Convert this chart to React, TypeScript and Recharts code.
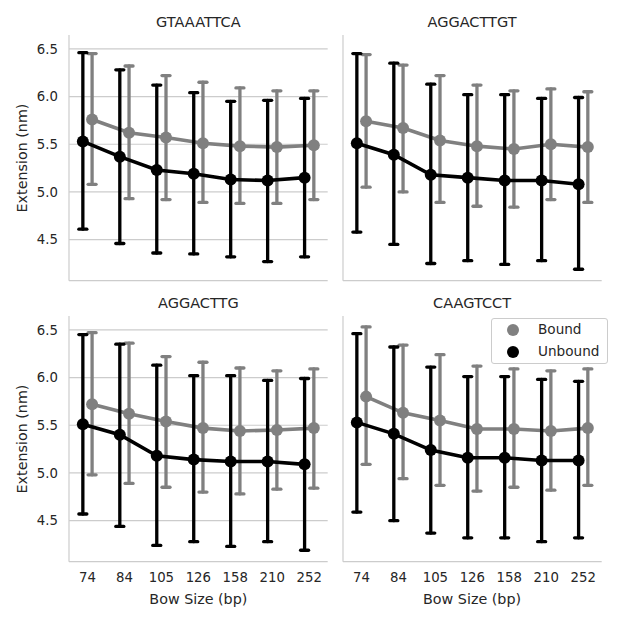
import React from "react";
import { LineChart, Line, XAxis, YAxis, CartesianGrid, ErrorBar } from "recharts";

const sizes = ["74", "84", "105", "126", "158", "210", "252"];
const yTicks = [4.5, 5.0, 5.5, 6.0, 6.5];
const titles = ["GTAAATTCA", "AGGACTTGT", "AGGACTTG", "CAAGTCCT"];

// GTAAATTCA
const gtaBoundMean = [5.76, 5.62, 5.57, 5.51, 5.48, 5.47, 5.49];
const gtaBoundLow = [5.08, 4.93, 4.92, 4.89, 4.88, 4.88, 4.92];
const gtaBoundHigh = [6.45, 6.32, 6.22, 6.15, 6.09, 6.06, 6.06];
const gtaUnboundMean = [5.53, 5.37, 5.23, 5.19, 5.13, 5.12, 5.15];
const gtaUnboundLow = [4.61, 4.46, 4.36, 4.35, 4.32, 4.27, 4.32];
const gtaUnboundHigh = [6.46, 6.28, 6.12, 6.04, 5.95, 5.96, 5.98];

// AGGACTTGT
const aggtBoundMean = [5.74, 5.67, 5.54, 5.48, 5.45, 5.5, 5.47];
const aggtBoundLow = [5.05, 5.0, 4.89, 4.85, 4.84, 4.92, 4.89];
const aggtBoundHigh = [6.44, 6.33, 6.22, 6.12, 6.06, 6.08, 6.05];
const aggtUnboundMean = [5.51, 5.39, 5.18, 5.15, 5.12, 5.12, 5.08];
const aggtUnboundLow = [4.58, 4.45, 4.25, 4.28, 4.24, 4.28, 4.19];
const aggtUnboundHigh = [6.45, 6.35, 6.13, 6.02, 6.02, 5.98, 5.99];

// AGGACTTG
const aggBoundMean = [5.72, 5.62, 5.54, 5.47, 5.44, 5.45, 5.47];
const aggBoundLow = [4.98, 4.89, 4.85, 4.8, 4.78, 4.83, 4.84];
const aggBoundHigh = [6.47, 6.36, 6.22, 6.16, 6.1, 6.07, 6.09];
const aggUnboundMean = [5.51, 5.4, 5.18, 5.14, 5.12, 5.12, 5.09];
const aggUnboundLow = [4.57, 4.44, 4.24, 4.28, 4.23, 4.28, 4.19];
const aggUnboundHigh = [6.45, 6.35, 6.13, 6.02, 6.02, 5.97, 5.99];

// CAAGTCCT
const caaBoundMean = [5.8, 5.63, 5.55, 5.46, 5.46, 5.44, 5.47];
const caaBoundLow = [5.09, 4.94, 4.87, 4.81, 4.85, 4.82, 4.87];
const caaBoundHigh = [6.53, 6.34, 6.24, 6.12, 6.09, 6.07, 6.09];
const caaUnboundMean = [5.53, 5.41, 5.24, 5.16, 5.16, 5.13, 5.13];
const caaUnboundLow = [4.59, 4.5, 4.37, 4.32, 4.32, 4.28, 4.32];
const caaUnboundHigh = [6.46, 6.32, 6.11, 6.01, 6.01, 5.98, 5.96];

const GRAY = "#808080";
const BLACK = "#000000";
const TEXT = "#262626";
const LINES = "#cccccc";
const FONT = "'DejaVu Sans', sans-serif";
const DODGE = 0.125;

const series = [
  { name: "Bound", color: GRAY },
  { name: "Unbound", color: BLACK },
];

const plotW = 258.7;
const plotH = 245.7;

function toRows(mean: number[], low: number[], high: number[], shift: number) {
  return mean.map((m, i) => ({ x: i + shift, y: m, err: [m - low[i], high[i] - m] }));
}

type PanelProps = {
  title: string;
  bound: number[][];
  unbound: number[][];
  px: number;
  py: number;
  showY: boolean;
  showX: boolean;
};

function centered(x: number, y: number, rotate = false): React.CSSProperties {
  return {
    position: "absolute",
    left: x,
    top: y,
    transform: `translate(-50%, -50%)${rotate ? " rotate(-90deg)" : ""}`,
    whiteSpace: "nowrap",
    fontFamily: FONT,
    color: TEXT,
    lineHeight: 1,
  };
}

function Panel({ title, bound, unbound, px, py, showY, showX }: PanelProps) {
  const yW = showY ? 50 : 1;
  const xH = showX ? 30 : 1;
  const padL = 70, padT = 36, padR = 20, padB = 60;
  const tickStyle = { fill: TEXT, fontSize: 13.3, fontFamily: FONT };
  const boundRows = toRows(bound[0], bound[1], bound[2], DODGE);
  const unboundRows = toRows(unbound[0], unbound[1], unbound[2], -DODGE);
  return (
    <>
      <div style={{ position: "absolute", left: px - padL, top: py - padT }}>
        <LineChart
          width={plotW + padL + padR}
          height={plotH + padT + padB}
          margin={{ left: padL - yW, top: padT, right: padR, bottom: padB - xH }}
        >
          <CartesianGrid vertical={false} syncWithTicks stroke={LINES} strokeWidth={1.2} />
          <XAxis
            type="number"
            dataKey="x"
            domain={[-0.5, 6.5]}
            ticks={[0, 1, 2, 3, 4, 5, 6]}
            interval={0}
            allowDataOverflow
            tickFormatter={(v) => sizes[v]}
            height={xH}
            tick={showX ? tickStyle : false}
            tickLine={false}
            tickSize={0}
            tickMargin={11}
            axisLine={{ stroke: LINES, strokeWidth: 1.2 }}
          />
          <YAxis
            type="number"
            domain={[4.07, 6.645]}
            ticks={yTicks}
            interval={0}
            allowDataOverflow
            tickFormatter={(v) => v.toFixed(1)}
            width={yW}
            tick={showY ? tickStyle : false}
            tickLine={false}
            tickSize={0}
            tickMargin={11}
            axisLine={{ stroke: LINES, strokeWidth: 1.2 }}
          />
          <Line
            data={boundRows}
            dataKey="y"
            stroke={GRAY}
            strokeWidth={3.6}
            dot={{ r: 6, fill: GRAY, stroke: GRAY, strokeWidth: 0 }}
            activeDot={false}
            isAnimationActive={false}
          >
            <ErrorBar dataKey="err" direction="y" width={4} stroke={GRAY} strokeWidth={3.3} strokeLinecap="round" isAnimationActive={false} />
          </Line>
          <Line
            data={unboundRows}
            dataKey="y"
            stroke={BLACK}
            strokeWidth={3.6}
            dot={{ r: 6, fill: BLACK, stroke: BLACK, strokeWidth: 0 }}
            activeDot={false}
            isAnimationActive={false}
          >
            <ErrorBar dataKey="err" direction="y" width={4} stroke={BLACK} strokeWidth={3.3} strokeLinecap="round" isAnimationActive={false} />
          </Line>
        </LineChart>
      </div>
      <div style={{ ...centered(px + plotW / 2, py - 13.3), fontSize: 14.5 }}>{title}</div>
    </>
  );
}

export default function App() {
  const cols = [69, 342.7];
  const rows = [35, 316];
  return (
    <div style={{ position: "absolute", left: 0, top: 0, width: 623, height: 623, background: "#fff", overflow: "hidden" }}>
      <Panel title={titles[0]} bound={[gtaBoundMean, gtaBoundLow, gtaBoundHigh]} unbound={[gtaUnboundMean, gtaUnboundLow, gtaUnboundHigh]} px={cols[0]} py={rows[0]} showY showX={false} />
      <Panel title={titles[1]} bound={[aggtBoundMean, aggtBoundLow, aggtBoundHigh]} unbound={[aggtUnboundMean, aggtUnboundLow, aggtUnboundHigh]} px={cols[1]} py={rows[0]} showY={false} showX={false} />
      <Panel title={titles[2]} bound={[aggBoundMean, aggBoundLow, aggBoundHigh]} unbound={[aggUnboundMean, aggUnboundLow, aggUnboundHigh]} px={cols[0]} py={rows[1]} showY showX />
      <Panel title={titles[3]} bound={[caaBoundMean, caaBoundLow, caaBoundHigh]} unbound={[caaUnboundMean, caaUnboundLow, caaUnboundHigh]} px={cols[1]} py={rows[1]} showY={false} showX />

      {rows.map((r) => (
        <div key={`yl-${r}`} style={{ ...centered(22, r + plotH / 2, true), fontSize: 14.3 }}>Extension (nm)</div>
      ))}
      {cols.map((c) => (
        <div key={`xl-${c}`} style={{ ...centered(c + plotW / 2, 599), fontSize: 14.3 }}>Bow Size (bp)</div>
      ))}

      <div
        style={{
          position: "absolute",
          left: 491,
          top: 318,
          width: 117,
          height: 46,
          border: `1px solid ${LINES}`,
          borderRadius: 3,
          background: "rgba(255,255,255,0.8)",
          boxSizing: "border-box",
        }}
      >
        {series.map((s, i) => (
          <div key={s.name} style={{ position: "absolute", left: 0, top: 11 + i * 21.7, width: "100%" }}>
            <div style={{ position: "absolute", left: 14.5, top: -6, width: 12, height: 12, borderRadius: "50%", background: s.color }} />
            <div style={{ ...centered(0, 0), transform: "translate(0, -50%)", left: 46, fontSize: 13.6 }}>{s.name}</div>
          </div>
        ))}
      </div>
    </div>
  );
}
